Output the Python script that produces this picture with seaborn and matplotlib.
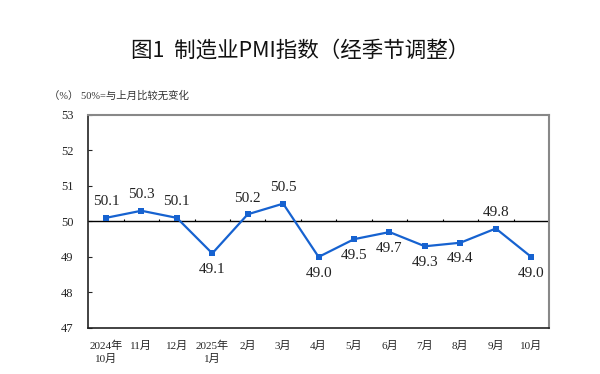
import numpy as np
import matplotlib.pyplot as plt
import seaborn as sns
import pandas as pd

sns.set_theme(style='white')
plt.rcParams['font.family'] = ['Liberation Serif', 'Noto Sans CJK SC', 'DejaVu Sans']

# data
months = ['2024年\n10月', '11月', '12月', '2025年\n1月', '2月', '3月', '4月',
          '5月', '6月', '7月', '8月', '9月', '10月']
pmi = [50.1, 50.3, 50.1, 49.1, 50.2, 50.5, 49.0, 49.5, 49.7, 49.3, 49.4, 49.8, 49.0]
label_above = [True, True, True, False, True, True, False, False, False, False, False, True, False]

df = pd.DataFrame({'x': np.arange(len(months)), 'pmi': pmi})
blue = '#1662d0'

fig = plt.figure(figsize=(6, 3.74), dpi=100)
ax = fig.add_axes([0.147, 0.123, 0.768, 0.57])

sns.lineplot(data=df, x='x', y='pmi', ax=ax, color=blue, lw=1.6,
             marker='s', markersize=5, markeredgewidth=0)

ax.axhline(50, color='black', lw=1, zorder=1)
ax.vlines(df['x'][:-1] + 0.5, 50, 50.08, color='black', lw=0.8)

for x, v, up in zip(df['x'], pmi, label_above):
    ax.annotate(f'{v:.1f}', (x, v), xytext=(0, 7 if up else -7),
                textcoords='offset points', ha='center',
                va='bottom' if up else 'top', fontsize=11, color='#222222',
                family='Liberation Serif')

ax.set_xlim(-0.5, len(months) - 0.5)
ax.set_ylim(47, 53)
ax.set_yticks(range(47, 54))
ax.set_xticks(df['x'])
ax.set_xticklabels(months, fontsize=8, linespacing=1.4, va='top')
ax.tick_params(axis='x', length=0, pad=9)
ax.tick_params(axis='y', direction='in', length=3, width=0.8, labelsize=9, pad=15, left=True)
for lab in ax.get_yticklabels():
    lab.set_horizontalalignment('center')
ax.set_xlabel('')
ax.set_ylabel('')

for s in ['left', 'bottom']:
    ax.spines[s].set_color('#222222')
    ax.spines[s].set_linewidth(1.2)
for s in ['top', 'right']:
    ax.spines[s].set_color('#888888')
    ax.spines[s].set_linewidth(1.5)

fig.text(0.5, 0.865, '图1  制造业PMI指数（经季节调整）', ha='center', va='center',
         fontsize=15.5, weight='medium', family=['Noto Sans CJK SC'], color='#111111')
fig.text(0.082, 0.745, '（%） 50%=与上月比较无变化', ha='left', va='center',
         fontsize=7.5, color='#333333')

fig.savefig('out.png', dpi=100)
